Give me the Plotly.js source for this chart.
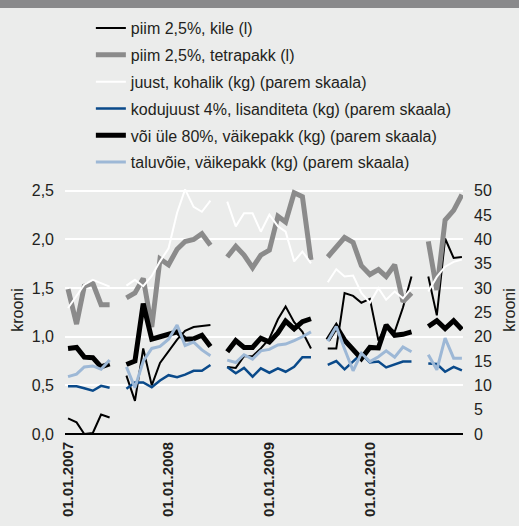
<!DOCTYPE html>
<html>
<head>
<meta charset="utf-8">
<script src="https://cdn.plot.ly/plotly-3.0.1.min.js"></script>
<style>
  html, body { margin: 0; padding: 0; background: #ebeceb; }
  #chart { width: 519px; height: 526px; }
</style>
</head>
<body>
<div id="chart"></div>
<script>
// kuud 2007-01 ... 2010-12, juuli andmed puuduvad (null)
const months = [];
[2007, 2008, 2009, 2010].forEach(y => {
    for (let m = 1; m <= 12; m++) {
        months.push(`${y}-${String(m).padStart(2, '0')}-01`);
    }
});

const tickDates = ['2007-01-01', '2008-01-01', '2009-01-01', '2010-01-01'];

// vasak skaala (kr/l)
const piimKile = [
    0.16, 0.12, 0.00, 0.01, 0.20, 0.17, null,
    0.60, 0.34, 0.88, 0.50, 0.73, 0.85, 0.97, 1.06, 1.10, 1.11, 1.12, null,
    0.69, 0.68, 0.80, 0.80, 0.88, 0.98, 1.18, 1.31, 1.15, 1.05, 0.88, null,
    0.88, 0.88, 1.45, 1.42, 1.35, 1.39, 0.96, 1.12, 1.05, 1.30, 1.62, null,
    1.62, 1.22, 2.01, 1.81, 1.82
];
const piimTetra = [
    1.49, 1.13, 1.52, 1.55, 1.33, 1.33, null,
    1.40, 1.45, 1.60, 1.10, 1.80, 1.74, 1.90, 1.98, 2.00, 2.06, 1.94, null,
    1.82, 1.93, 1.84, 1.71, 1.84, 1.89, 2.24, 2.18, 2.48, 2.44, 1.79, null,
    1.82, 1.92, 2.02, 1.97, 1.73, 1.64, 1.69, 1.62, 1.74, 1.36, 1.45, null,
    1.98, 1.48, 2.20, 2.30, 2.46
];

// parem skaala (kr/kg)
const juust = [
    25.9, 28.3, 30.7, 31.7, 31.0, 30.3, null,
    30.5, 31.7, 30.4, 32.5, 35.5, 38.2, 45.5, 50.3, 46.7, 45.7, 48.0, null,
    47.8, 42.7, 45.4, 45.4, 41.6, 45.1, 42.7, 41.6, 35.5, 37.5, 35.1, null,
    31.2, 33.9, 32.4, 32.6, 29.0, 27.0, 30.0, 27.6, 29.3, 27.9, 30.0, null,
    29.3, 32.3, 34.4, 35.4, 35.9
];
const kodujuust = [
    9.8, 9.8, 9.4, 8.9, 9.9, 9.5, null,
    9.3, 10.6, 10.6, 9.6, 11.0, 12.1, 11.7, 12.2, 13.0, 13.0, 14.2, null,
    13.8, 12.5, 13.6, 11.8, 13.5, 12.6, 13.5, 12.8, 13.8, 15.8, 15.8, null,
    14.2, 15.0, 13.3, 15.0, 16.5, 14.7, 14.9, 13.7, 14.3, 14.9, 14.9, null,
    14.5, 14.4, 12.8, 13.8, 13.1
];
const voi = [
    17.6, 17.8, 15.8, 15.7, 13.8, 14.4, null,
    14.3, 15.0, 26.8, 19.5, 20.0, 20.5, 21.0, 19.5, 19.6, 20.3, 18.0, null,
    16.9, 19.2, 17.8, 17.8, 19.7, 18.9, 20.8, 23.2, 21.6, 23.1, 23.7, null,
    19.3, 22.1, 19.3, 17.3, 15.5, 17.8, 17.7, 22.4, 20.3, 20.5, 21.0, null,
    22.1, 23.3, 21.7, 23.3, 21.5
];
const taluvoie = [
    11.8, 12.3, 13.8, 14.0, 13.3, 15.2, null,
    13.8, 9.5, 15.0, 17.6, 18.0, 19.5, 22.4, 18.2, 18.9, 17.3, 16.1, null,
    15.2, 14.7, 16.3, 15.4, 17.1, 17.4, 18.3, 18.5, 19.2, 20.0, 21.0, null,
    19.1, 22.1, 17.5, 13.0, 16.6, 14.9, 15.9, 17.1, 15.8, 17.9, 16.9, null,
    16.3, 13.2, 19.7, 15.6, 15.6
];

const seriesNames = [
    'piim 2,5%, kile (l)',
    'piim 2,5%, tetrapakk (l)',
    'juust, kohalik (kg) (parem skaala)',
    'kodujuust 4%, lisanditeta (kg) (parem skaala)',
    'või üle 80%, väikepakk (kg) (parem skaala)',
    'taluvõie, väikepakk (kg) (parem skaala)'
];

function line(y, name, color, width, axis, group) {
    return {
        x: months, y: y, name: name, type: 'scatter', mode: 'lines',
        line: { color: color, width: width },
        yaxis: axis, legendgroup: group, connectgaps: false,
        hoverinfo: 'skip'
    };
}

const traces = [
    line(piimKile, seriesNames[0], '#000000', 2, 'y', 'g1'),
    line(piimTetra, seriesNames[1], '#8b8b8b', 5, 'y', 'g2'),
    line(juust, seriesNames[2], '#ffffff', 2, 'y2', 'g3'),
    line(kodujuust, seriesNames[3], '#0a4a8a', 2.5, 'y2', 'g4'),
    line(voi, seriesNames[4], '#000000', 5, 'y2', 'g5'),
    line(taluvoie, seriesNames[5], '#9db8d6', 3, 'y2', 'g6')
];

const font = { family: 'Liberation Sans, Arial, sans-serif', size: 16, color: '#231f20' };

const layout = {
    width: 519,
    height: 526,
    paper_bgcolor: '#ebeceb',
    plot_bgcolor: '#ebeceb',
    font: font,
    separators: ', ',
    margin: { l: 65, r: 56, t: 186, b: 92 },
    showlegend: true,
    legend: {
        x: 0.065, y: 1.705, xanchor: 'left', yanchor: 'top',
        bgcolor: 'rgba(0,0,0,0)',
        traceorder: 'grouped', tracegroupgap: 3,
        font: font
    },
    xaxis: {
        type: 'date',
        range: ['2006-12-21', '2010-12-05'],
        tickvals: tickDates,
        tickformat: '%d.%m.%Y',
        tickangle: -90,
        ticklabelstandoff: 4,
        tickfont: { family: font.family, size: 15, color: '#231f20', weight: 'bold' },
        showgrid: false, zeroline: false, showline: false, ticks: ''
    },
    yaxis: {
        range: [0, 2.55],
        tickvals: [0, 0.5, 1, 1.5, 2, 2.5],
        tickformat: '.1f',
        ticklabelstandoff: 10,
        showgrid: true, gridcolor: '#ffffff', gridwidth: 2,
        zeroline: true, zerolinecolor: '#000000', zerolinewidth: 2,
        ticks: '',
        title: { text: 'krooni', font: font, standoff: 4 }
    },
    yaxis2: {
        overlaying: 'y', side: 'right',
        range: [0, 51],
        tickvals: [0, 5, 10, 15, 20, 25, 30, 35, 40, 45, 50],
        ticklabelstandoff: 10,
        showgrid: false, zeroline: false, ticks: '',
        title: { text: 'krooni', font: font, standoff: 12 }
    },
    shapes: [{
        type: 'rect', xref: 'paper', yref: 'paper',
        x0: -0.2, x1: 1.2, y0: 1 + 178 / 248, y1: 1 + 186 / 248,
        fillcolor: '#89898b', line: { width: 0 }
    }]
};

Plotly.newPlot('chart', traces, layout, { staticPlot: true, displayModeBar: false });
</script>
</body>
</html>
